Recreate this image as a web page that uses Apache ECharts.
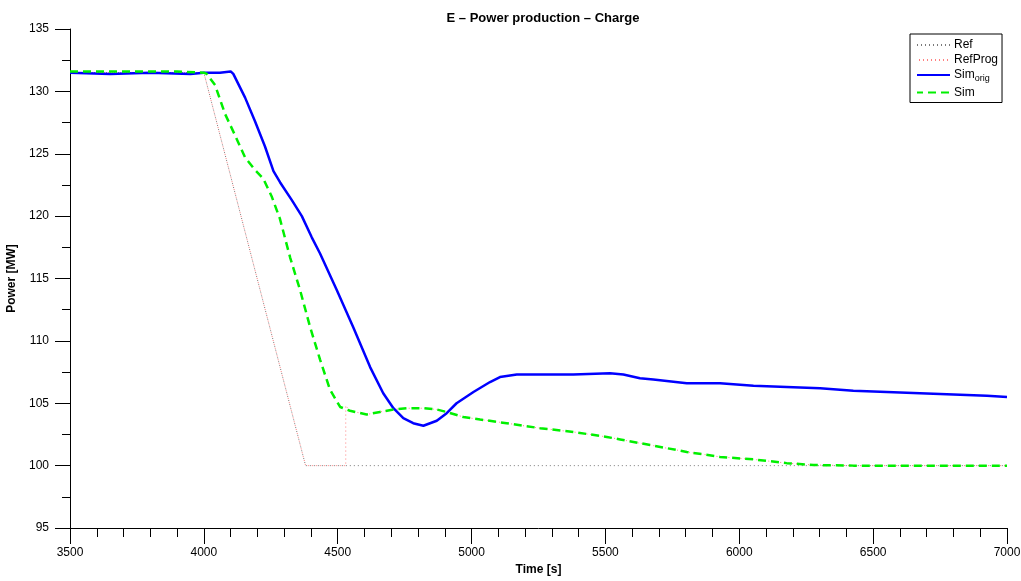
<!DOCTYPE html>
<html>
<head>
<meta charset="utf-8">
<title>E – Power production – Charge</title>
<script src="https://cdn.jsdelivr.net/npm/echarts@6/dist/echarts.min.js"></script>
<style>
  html, body { margin: 0; padding: 0; background: #fff; }
  #chart { width: 1021px; height: 581px; }
</style>
</head>
<body>
<div id="chart"></div>
<script>
// Time axis ticks [s] and power axis ticks [MW]
const timeTicks = [3500, 4000, 4500, 5000, 5500, 6000, 6500, 7000];
const powerTicks = [95, 100, 105, 110, 115, 120, 125, 130, 135];

// Reference ramp
const refTime  = [3500, 4000, 4380, 7000];
const refPower = [131.5, 131.5, 100, 100];

// Programmed reference (ramp, hold, then switches to the simulated value)
const refProgTime  = [3500, 4000, 4380, 4530, 4530];
const refProgPower = [131.5, 131.5, 100, 100, 104.8];

// Original simulation
const simOrigTime = [3500, 3650, 3800, 3950, 4000, 4060, 4100, 4110, 4154, 4191, 4228, 4260, 4285, 4328,
  4366, 4403, 4434, 4496, 4558, 4621, 4670, 4708, 4745, 4782, 4820, 4870, 4907, 4944, 5007, 5069, 5106,
  5169, 5256, 5380, 5517, 5567, 5629, 5679, 5804, 5928, 6053, 6177, 6302, 6426, 6551, 6675, 6800, 6925, 7000];
const simOrigPower = [131.5, 131.4, 131.5, 131.4, 131.5, 131.5, 131.6, 131.4, 129.5, 127.6, 125.6, 123.6, 122.7, 121.3,
  120.0, 118.3, 117.0, 114.1, 111.1, 107.9, 105.8, 104.6, 103.8, 103.4, 103.2, 103.6, 104.2, 105.0, 105.9, 106.7, 107.1,
  107.3, 107.3, 107.3, 107.4, 107.3, 107.0, 106.9, 106.6, 106.6, 106.4, 106.3, 106.2, 106.0, 105.9, 105.8, 105.7, 105.6, 105.5];

// Simulation
const simTime = [3500, 3700, 3900, 4000, 4011, 4042, 4079, 4116, 4154, 4191, 4222, 4253, 4284, 4322, 4359,
  4397, 4434, 4471, 4509, 4546, 4608, 4658, 4708, 4757, 4820, 4870, 4907, 4969, 5032, 5131, 5256, 5380,
  5505, 5555, 5679, 5804, 5928, 6053, 6177, 6277, 6426, 6600, 6800, 7000];
const simPower = [131.6, 131.6, 131.6, 131.5, 131.4, 130.5, 128.2, 126.5, 124.7, 123.7, 123.0, 121.6, 119.8, 116.7, 114.1,
  111.1, 108.5, 106.1, 104.7, 104.4, 104.1, 104.3, 104.5, 104.6, 104.6, 104.5, 104.3, 103.9, 103.7, 103.4, 103.0, 102.7,
  102.3, 102.1, 101.6, 101.1, 100.7, 100.5, 100.2, 100.05, 100.0, 100.0, 100.0, 100.0];

function pairs(t, v) { return t.map((x, i) => [x, v[i]]); }

// After the switch, the programmed reference follows the simulated power
const refProgData = pairs(refProgTime, refProgPower)
  .concat(pairs(simTime, simPower).filter(p => p[0] > 4530));

const FONT = '"Liberation Sans", Arial, Helvetica, sans-serif';
const chart = echarts.init(document.getElementById('chart'), null, { renderer: 'canvas' });

const axisCommon = {
  type: 'value',
  axisLine: { show: true, onZero: false, lineStyle: { color: '#000', width: 1 } },
  splitLine: { show: false },
  axisLabel: { color: '#000', fontSize: 12, fontFamily: FONT, formatter: v => String(v) },
  nameTextStyle: { color: '#000', fontSize: 12, fontWeight: 'bold', fontFamily: FONT }
};

chart.setOption({
  animation: false,
  backgroundColor: '#fff',
  title: {
    text: 'E – Power production – Charge',
    left: 538, top: 7, textAlign: 'center',
    textStyle: { fontSize: 13, fontWeight: 'bold', color: '#000', fontFamily: FONT }
  },
  grid: { left: 70, right: 14, top: 29, bottom: 53, outerBoundsMode: 'none' },
  legend: {
    orient: 'vertical',
    left: 910, top: 34,
    backgroundColor: '#fff',
    borderColor: '#000', borderWidth: 1,
    padding: [5, 4, 4, 6],
    itemGap: 3,
    itemWidth: 33, itemHeight: 10,
    itemStyle: { opacity: 0 },
    data: ['Ref', 'RefProg', 'Sim_orig', 'Sim'],
    formatter: n => n === 'Sim_orig' ? '{m|Sim}{s|orig}' : n,
    textStyle: {
      color: '#000', fontSize: 12, fontFamily: FONT, padding: [0, 0, 0, -1],
      rich: {
        m: { fontSize: 12, fontFamily: FONT, color: '#000' },
        s: { fontSize: 9, fontFamily: FONT, color: '#000', padding: [8, 0, 0, 0] }
      }
    }
  },
  xAxis: Object.assign({}, axisCommon, {
    min: timeTicks[0], max: timeTicks[timeTicks.length - 1], interval: 500,
    name: 'Time [s]', nameLocation: 'middle', nameGap: 36,
    axisTick: { show: true, inside: false, length: 16, lineStyle: { color: '#000' } },
    minorTick: { show: true, splitNumber: 5, length: 9, lineStyle: { color: '#000' } },
    axisLabel: Object.assign({}, axisCommon.axisLabel, { margin: 19 })
  }),
  yAxis: Object.assign({}, axisCommon, {
    min: powerTicks[0], max: powerTicks[powerTicks.length - 1], interval: 5,
    name: 'Power [MW]', nameLocation: 'middle', nameGap: 44,
    axisTick: { show: true, inside: false, length: 15, lineStyle: { color: '#000' } },
    minorTick: { show: true, splitNumber: 2, length: 8, lineStyle: { color: '#000' } },
    axisLabel: Object.assign({}, axisCommon.axisLabel, { margin: 21 })
  }),
  series: [
    {
      name: 'Ref', type: 'line', symbol: 'none', z: 2,
      data: pairs(refTime, refPower),
      lineStyle: { color: '#7a7a7a', width: 1, type: [1, 3] },
      itemStyle: { color: '#7a7a7a' }
    },
    {
      name: 'RefProg', type: 'line', symbol: 'none', z: 2,
      data: refProgData,
      lineStyle: { color: '#ff7f7f', width: 1, type: [1, 3], dashOffset: 2 },
      itemStyle: { color: '#ff7f7f' }
    },
    {
      name: 'Sim_orig', type: 'line', symbol: 'none', z: 3,
      data: pairs(simOrigTime, simOrigPower),
      lineStyle: { color: '#0000ff', width: 2.5 },
      itemStyle: { color: '#0000ff' }
    },
    {
      name: 'Sim', type: 'line', symbol: 'none', z: 4,
      data: pairs(simTime, simPower),
      lineStyle: { color: '#00f000', width: 2.5, type: [8, 5] },
      itemStyle: { color: '#00f000' }
    }
  ]
});
</script>
</body>
</html>
